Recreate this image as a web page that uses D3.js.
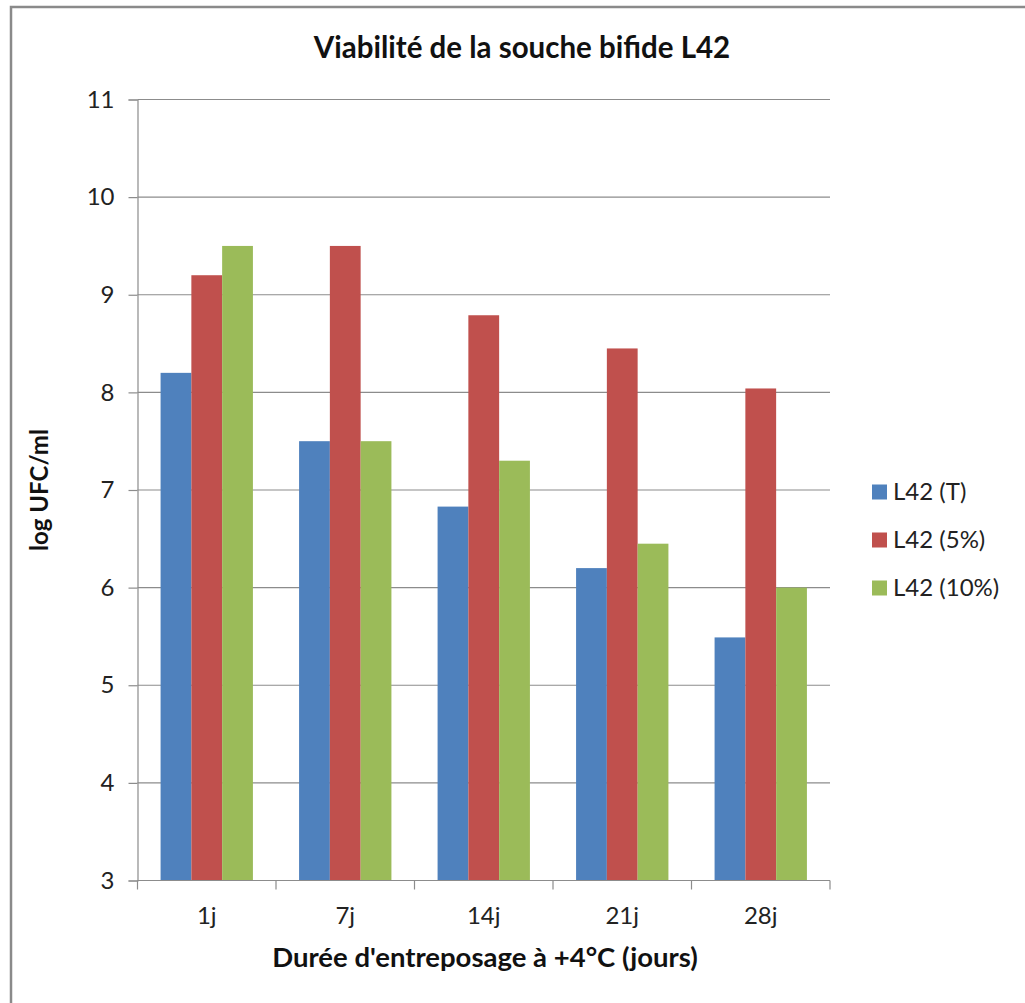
<!DOCTYPE html>
<html>
<head>
<meta charset="utf-8">
<script src="https://cdn.jsdelivr.net/npm/d3@7"></script>
<style>
  html, body { margin: 0; padding: 0; background: #fff; }
  svg { display: block; font-family: Lato, "Open Sans", sans-serif; }
</style>
</head>
<body>
<svg id="chart" width="1025" height="1003"></svg>
<script>
// Storage days and viability (log UFC/ml) for each preparation of strain L42
const categories = ["1j", "7j", "14j", "21j", "28j"];
const seriesNames = ["L42 (T)", "L42 (5%)", "L42 (10%)"];
const valuesT   = [8.2, 7.5, 6.83, 6.2, 5.49];
const values5   = [9.2, 9.5, 8.79, 8.45, 8.04];
const values10  = [9.5, 7.5, 7.3, 6.45, 6.0];
const yTicks = [3, 4, 5, 6, 7, 8, 9, 10, 11];
const colors = ["#4F81BD", "#C0504D", "#9BBB59"];

const series = [valuesT, values5, values10];

const svg = d3.select("#chart");
const W = 1025, H = 1003;
const plot = { left: 137.5, right: 830, top: 99.5, bottom: 880.5 };

// Outer chart frame
svg.append("rect")
  .attr("x", 11).attr("y", 7)
  .attr("width", W + 20).attr("height", H + 20)
  .attr("fill", "#fff").attr("stroke", "#8a8a8a").attr("stroke-width", 2.5);

const x0 = d3.scaleBand()
  .domain(categories)
  .range([plot.left, plot.right])
  .paddingInner(0).paddingOuter(0);

// 150% gap between groups: bars take 3 of 4.5 units in each band
const groupW = x0.bandwidth() * 3 / 4.5;
const x1 = d3.scaleBand()
  .domain(seriesNames)
  .range([0, groupW]);

const y = d3.scaleLinear().domain([3, 11]).range([plot.bottom, plot.top]);

// Horizontal gridlines
svg.append("g")
  .selectAll("line")
  .data(yTicks.filter(t => t > 3))
  .join("line")
  .attr("x1", plot.left).attr("x2", plot.right)
  .attr("y1", d => y(d)).attr("y2", d => y(d))
  .attr("stroke", "#8c8c8c").attr("stroke-width", 1.2);

// Bars
const groups = svg.append("g")
  .selectAll("g")
  .data(categories)
  .join("g")
  .attr("transform", d => `translate(${x0(d) + (x0.bandwidth() - groupW) / 2},0)`);

groups.selectAll("rect")
  .data((c, i) => seriesNames.map((s, k) => ({ s, k, v: series[k][i] })))
  .join("rect")
  .attr("x", d => x1(d.s))
  .attr("width", x1.bandwidth())
  .attr("y", d => y(d.v))
  .attr("height", d => y(3) - y(d.v))
  .attr("fill", d => colors[d.k]);

// Y axis
const yAxis = d3.axisLeft(y).tickValues(yTicks).tickSize(9).tickPadding(14).tickFormat(d3.format("d"));
const gy = svg.append("g").attr("transform", `translate(${plot.left},0)`).call(yAxis);
gy.select(".domain").attr("stroke", "#8c8c8c").attr("stroke-width", 1.2);
gy.selectAll(".tick line").attr("stroke", "#8c8c8c").attr("stroke-width", 1.2);
gy.selectAll(".tick text").attr("font-size", 24).attr("fill", "#222").attr("font-family", "Lato, sans-serif");

// X axis: tick marks at category boundaries, labels centred in bands
const boundaries = d3.range(categories.length + 1).map(i => plot.left + i * x0.bandwidth());
svg.append("line")
  .attr("x1", plot.left).attr("x2", plot.right)
  .attr("y1", plot.bottom).attr("y2", plot.bottom)
  .attr("stroke", "#8c8c8c").attr("stroke-width", 1.2);
svg.append("g").selectAll("line")
  .data(boundaries)
  .join("line")
  .attr("x1", d => d).attr("x2", d => d)
  .attr("y1", plot.bottom).attr("y2", plot.bottom + 9)
  .attr("stroke", "#8c8c8c").attr("stroke-width", 1.2);
svg.append("g").selectAll("text")
  .data(categories)
  .join("text")
  .attr("x", d => x0(d) + x0.bandwidth() / 2)
  .attr("y", 924)
  .attr("text-anchor", "middle")
  .attr("font-size", 24).attr("fill", "#222")
  .text(d => d);

// Titles
svg.append("text")
  .attr("x", 522).attr("y", 58)
  .attr("text-anchor", "middle")
  .attr("font-size", 29.5).attr("font-weight", "bold").attr("fill", "#111")
  .text("Viabilité de la souche bifide L42");

svg.append("text")
  .attr("x", 485).attr("y", 967)
  .attr("text-anchor", "middle")
  .attr("font-size", 27.5).attr("font-weight", "bold").attr("fill", "#111")
  .text("Durée d'entreposage à +4°C (jours)");

svg.append("text")
  .attr("transform", "translate(48,490) rotate(-90)")
  .attr("text-anchor", "middle")
  .attr("font-size", 24).attr("font-weight", "bold").attr("fill", "#111")
  .text("log UFC/ml");

// Legend
const legend = svg.append("g").selectAll("g")
  .data(seriesNames)
  .join("g")
  .attr("transform", (d, i) => `translate(872,${492 + i * 48})`);
legend.append("rect")
  .attr("x", 0).attr("y", -7.5).attr("width", 15).attr("height", 15)
  .attr("fill", (d, i) => colors[i]);
legend.append("text")
  .attr("x", 21).attr("y", 0).attr("dy", "0.35em")
  .attr("font-size", 24).attr("fill", "#222")
  .text(d => d);
</script>
</body>
</html>
